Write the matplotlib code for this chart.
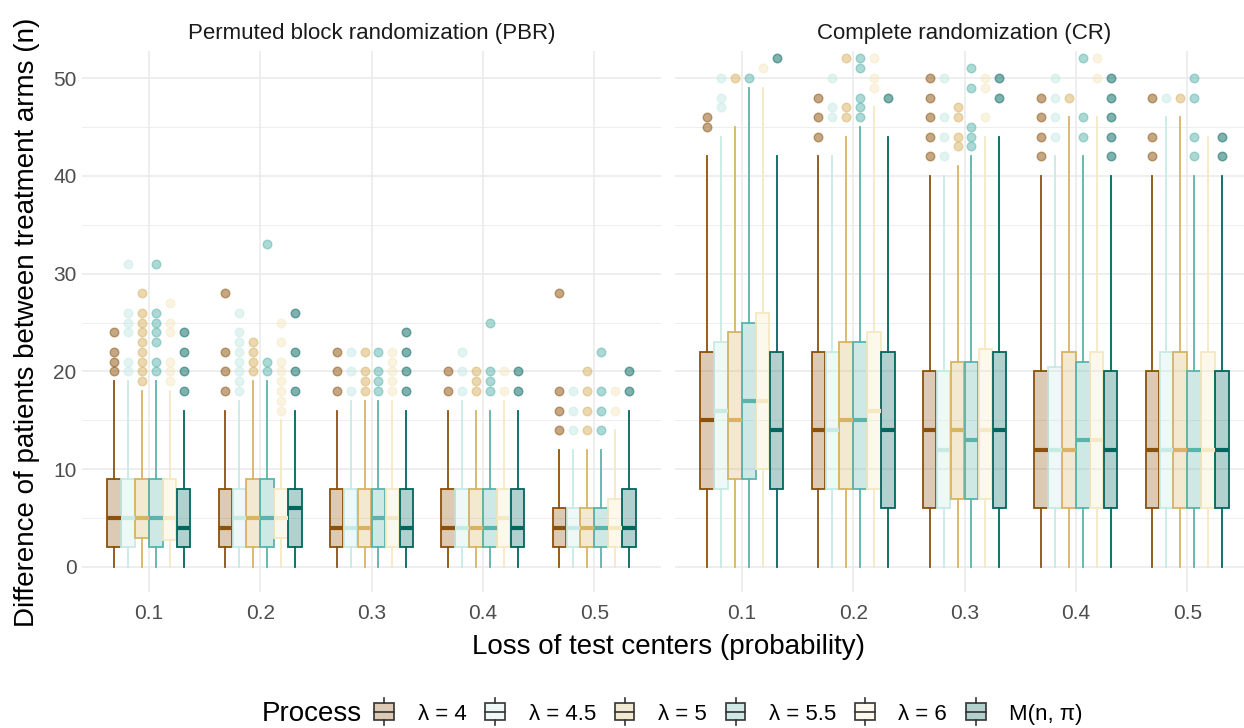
import matplotlib
matplotlib.use("Agg")
import matplotlib.pyplot as plt
from matplotlib.colors import to_rgba
from matplotlib.legend_handler import HandlerBase
from matplotlib.patches import Rectangle
from matplotlib.lines import Line2D

plt.rcParams['font.family'] = ['Liberation Sans', 'DejaVu Sans']

# ---------------- data ----------------
loss_labels = ["0.1", "0.2", "0.3", "0.4", "0.5"]
processes = ["λ = 4", "λ = 4.5", "λ = 5", "λ = 5.5", "λ = 6", "M(n, π)"]
colors = ["#8C510A", "#C7EAE5", "#D8B365", "#5AB4AC", "#F6E8C3", "#01665E"]
panel_titles = ["Permuted block randomization (PBR)", "Complete randomization (CR)"]

# Permuted block randomization (rows: process, cols: loss probability)
pbr_low = [[0, 0, 0, 0, 0]] * 6
pbr_q1 = [[2, 2, 2, 2, 2],
          [2, 2, 2, 2, 2],
          [3, 2, 2, 2, 2],
          [2, 2, 2, 2, 2],
          [2.75, 3, 2, 2, 2],
          [2, 2, 2, 2, 2]]
pbr_med = [[5, 4, 4, 4, 4],
           [5, 5, 4, 4, 4],
           [5, 5, 4, 4, 4],
           [5, 5, 5, 4, 4],
           [5, 5, 5, 5, 4],
           [4, 6, 4, 4, 4]]
pbr_q3 = [[9, 8, 8, 8, 6],
          [9, 8, 8, 8, 6],
          [9, 9, 8, 8, 6],
          [9, 9, 8, 8, 6],
          [9, 8, 8, 8, 7],
          [8, 8, 8, 8, 8]]
pbr_high = [[19, 16, 16, 16, 12],
            [19, 17, 17, 17, 12],
            [18, 19, 17, 16, 12],
            [19, 19, 17, 16, 12],
            [18, 15, 17, 17, 14],
            [16, 16, 16, 16, 16]]
pbr_out = [
    [[20, 21, 22, 24], [18, 20, 22, 28], [18, 20, 22], [18, 20], [14, 16, 18, 28]],
    [[20, 21, 24, 25, 26, 31], [18, 19, 20, 21, 22, 23, 24, 26], [18, 20, 22], [18, 20, 22], [14, 16, 18]],
    [[19, 20, 21, 22, 23, 24, 25, 26, 28], [20, 21, 22, 23], [18, 19, 20, 22], [18, 19, 20], [14, 16, 18, 20]],
    [[20, 21, 23, 24, 25, 26, 31], [20, 21, 33], [18, 19, 20, 22], [18, 19, 20, 25], [14, 16, 18, 22]],
    [[19, 20, 21, 24, 25, 27], [16, 17, 18, 19, 20, 21, 23, 25], [18, 19, 20, 21, 22], [18, 20], [16, 18]],
    [[18, 20, 22, 24], [18, 20, 22, 26], [18, 20, 22, 24], [18, 20], [18, 20]],
]

# Complete randomization
cr_low = [[0, 0, 0, 0, 0]] * 6
cr_q1 = [[8, 8, 6, 6, 6],
         [8, 8, 6, 6, 6],
         [9, 8, 7, 6, 6],
         [9, 8, 7, 6, 6],
         [10, 8, 7, 6, 6],
         [8, 6, 6, 6, 6]]
cr_med = [[15, 14, 14, 12, 12],
          [16, 14, 12, 12, 12],
          [15, 15, 14, 12, 12],
          [17, 15, 13, 13, 12],
          [17, 16, 14, 13, 12],
          [14, 14, 14, 12, 12]]
cr_q3 = [[22, 22, 20, 20, 20],
         [23, 22, 20, 20.5, 22],
         [24, 23, 21, 22, 22],
         [25, 23, 21, 21, 20],
         [26, 24, 22.25, 22, 22],
         [22, 22, 22, 20, 20]]
cr_high = [[42, 42, 40, 40, 40],
           [44, 42, 40, 42, 46],
           [45, 44, 41, 46, 46],
           [49, 45, 42, 42, 40],
           [49, 47, 44, 46, 44],
           [42, 44, 44, 40, 40]]
cr_out = [
    [[45, 46], [44, 46, 48], [42, 44, 46, 48, 50], [42, 44, 46, 48], [42, 44, 48]],
    [[47, 48, 50], [46, 47, 50], [42, 44, 46, 50], [44, 46, 48, 50], [48]],
    [[50], [46, 47, 52], [43, 44, 46, 47], [48], [48]],
    [[50], [46, 47, 48, 51, 52], [43, 44, 45, 49, 51], [44, 46, 52], [42, 44, 48, 50]],
    [[51], [49, 50, 52], [46, 49, 50], [50, 52], []],
    [[52], [48], [48, 50], [42, 44, 46, 48, 50], [42, 44]],
]

panels = [
    (pbr_low, pbr_q1, pbr_med, pbr_q3, pbr_high, pbr_out),
    (cr_low, cr_q1, cr_med, cr_q3, cr_high, cr_out),
]

# ---------------- layout ----------------
W, H = 1244, 728
fig = plt.figure(figsize=(W / 100, H / 100), dpi=100)

y0, y1 = -2.6, 52.8
px_per_unit = 9.78
ax_bottom_px = 567 + (0 - y0) * px_per_unit
ax_height_px = (y1 - y0) * px_per_unit
panel_left_px = [82, 675]
panel_w_px = 579

grid_col = "#EBEBEB"
n_proc = len(processes)
box_w = 0.75 / n_proc

axes = []
for p, (lows, q1s, meds, q3s, highs, outs) in enumerate(panels):
    ax = fig.add_axes([panel_left_px[p] / W, (H - ax_bottom_px) / H,
                       panel_w_px / W, ax_height_px / H])
    axes.append(ax)
    ax.set_xlim(0.4, 5.6)
    ax.set_ylim(y0, y1)
    for s in ax.spines.values():
        s.set_visible(False)
    ax.set_yticks(range(0, 51, 10))
    ax.set_yticks(range(5, 50, 10), minor=True)
    ax.set_xticks(range(1, 6))
    ax.set_xticklabels(loss_labels)
    ax.tick_params(which="both", length=0)
    ax.tick_params(axis="both", labelsize=15, colors="#4D4D4D")
    ax.tick_params(axis="x", pad=8)
    ax.tick_params(axis="y", pad=4)
    ax.grid(True, which="major", color=grid_col, linewidth=1.2)
    ax.grid(True, which="minor", axis="y", color=grid_col, linewidth=0.6)
    ax.set_axisbelow(True)
    if p == 1:
        ax.tick_params(axis="y", labelleft=False)

    for j in range(n_proc):
        col = colors[j]
        stats = []
        positions = []
        for i in range(len(loss_labels)):
            stats.append(dict(whislo=lows[j][i], q1=q1s[j][i], med=meds[j][i],
                              q3=q3s[j][i], whishi=highs[j][i], fliers=outs[j][i]))
            positions.append(i + 1 + (j - (n_proc - 1) / 2) * box_w)
        ax.bxp(stats, positions=positions, widths=box_w * 0.97,
               patch_artist=True, showcaps=False, manage_ticks=False,
               boxprops=dict(facecolor=to_rgba(col, 0.3), edgecolor=col, linewidth=1.3),
               whiskerprops=dict(color=col, linewidth=1.3),
               medianprops=dict(color=col, linewidth=3.0, solid_capstyle="butt"),
               flierprops=dict(marker="o", markersize=6.2, markerfacecolor=col,
                               markeredgecolor=col, alpha=0.5, linestyle="none"))

    cx = (panel_left_px[p] + panel_w_px / 2) / W
    fig.text(cx, 1 - 33 / H, panel_titles[p], ha="center", va="center",
             fontsize=16, color="#1A1A1A")

fig.text(668 / W, 1 - 647 / H, "Loss of test centers (probability)",
         ha="center", va="center", fontsize=20, color="black")
fig.text(27 / W, 1 - 322 / H, "Difference of patients between treatment arms (n)",
         ha="center", va="center", rotation=90, fontsize=20, color="black")


# ---------------- legend ----------------
class BoxHandler(HandlerBase):
    def create_artists(self, legend, orig_handle, xdescent, ydescent,
                       width, height, fontsize, trans):
        fc = orig_handle.get_facecolor()
        bw = width * 0.8
        bx = (width - bw) / 2 - xdescent
        bh = height * 1.0
        by = -ydescent + (height - bh) / 2
        cxm = bx + bw / 2
        ec = "#333333"
        rect = Rectangle((bx, by), bw, bh, facecolor=fc, edgecolor=ec,
                         linewidth=1.2, transform=trans)
        med = Line2D([bx, bx + bw], [by + bh / 2] * 2, color=ec, linewidth=1.2,
                     transform=trans)
        w1 = Line2D([cxm, cxm], [by + bh, by + bh + height * 0.3], color=ec,
                    linewidth=1.2, transform=trans)
        w2 = Line2D([cxm, cxm], [by, by - height * 0.3], color=ec,
                    linewidth=1.2, transform=trans)
        return [rect, med, w1, w2]


handles = [Rectangle((0, 0), 1, 1, facecolor=to_rgba(c, 0.3)) for c in colors]
fig.text(262 / W, 1 - 714 / H, "Process", ha="left", va="center", fontsize=20)
fig.legend(handles, processes, handler_map={Rectangle: BoxHandler()},
           loc="center left", bbox_to_anchor=(372 / W, 1 - 714 / H),
           ncol=6, frameon=False, fontsize=16, handlelength=1.1,
           handleheight=0.8, handletextpad=0.95, columnspacing=0.75,
           borderaxespad=0, borderpad=0)

fig.savefig("out.png", dpi=100)
